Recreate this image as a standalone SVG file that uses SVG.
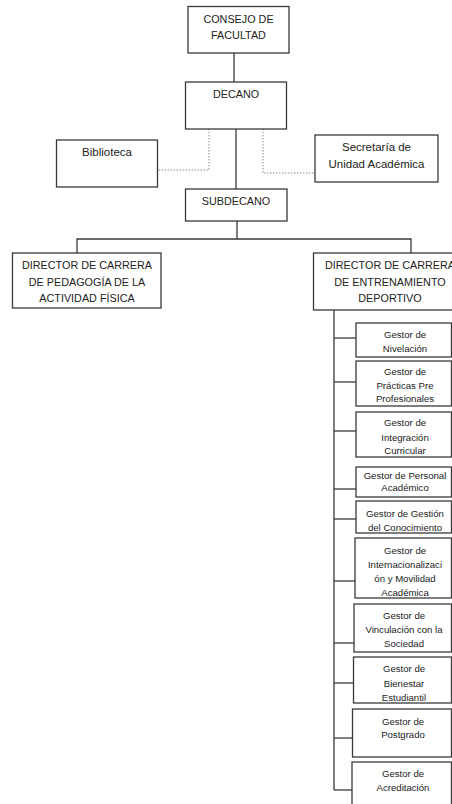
<svg xmlns="http://www.w3.org/2000/svg" width="452" height="804" viewBox="0 0 452 804">
<style>
.b{fill:#fff;stroke:#3a3a3a;stroke-width:1.3}
.l{fill:none;stroke:#3a3a3a;stroke-width:1.3}
.d{fill:none;stroke:#8a8a8a;stroke-width:1;stroke-dasharray:1.5 1.5}
text{font-family:"Liberation Sans",Arial,sans-serif;fill:#222;text-anchor:middle}
.t{font-size:10.8px}
.m{font-size:11.5px}
.s{font-size:9.6px}
</style>
<rect width="452" height="804" fill="#fff"/>
<g id="connectors">
<line class="l" x1="234" y1="53" x2="234" y2="82"/>
<line class="l" x1="236" y1="129" x2="236" y2="189"/>
<polyline class="d" points="209,129 209,170 157,170"/>
<polyline class="d" points="263,129 263,173 315,173"/>
<line class="l" x1="237" y1="221" x2="237" y2="239"/>
<polyline class="l" points="77,253 77,239 411,239 411,253"/>
<line class="l" x1="334" y1="310" x2="334" y2="790"/>
<line class="l" x1="334" y1="338" x2="356" y2="338"/>
<line class="l" x1="334" y1="382" x2="356" y2="382"/>
<line class="l" x1="334" y1="431" x2="356" y2="431"/>
<line class="l" x1="334" y1="489" x2="356" y2="489"/>
<line class="l" x1="334" y1="519" x2="356" y2="519"/>
<line class="l" x1="334" y1="581" x2="356" y2="581"/>
<line class="l" x1="334" y1="643" x2="356" y2="643"/>
<line class="l" x1="334" y1="683" x2="356" y2="683"/>
<line class="l" x1="334" y1="738" x2="355" y2="738"/>
<line class="l" x1="334" y1="790" x2="354" y2="790"/>
</g>
<g id="consejo"><rect class="b" x="188" y="6.5" width="101" height="46.5"/><text class="t" x="238.5" y="23">CONSEJO DE</text><text class="t" x="238.5" y="39">FACULTAD</text></g>
<g id="decano"><rect class="b" x="185.5" y="82" width="101" height="47"/><text class="t" x="236" y="98">DECANO</text></g>
<g id="biblioteca"><rect class="b" x="56.5" y="140" width="101" height="47"/><text class="m" x="107" y="156">Biblioteca</text></g>
<g id="secretaria"><rect class="b" x="315" y="135" width="123" height="47"/><text class="m" x="376.5" y="151">Secretaría de</text><text class="m" x="376.5" y="168">Unidad Académica</text></g>
<g id="subdecano"><rect class="b" x="185.5" y="189" width="101.5" height="32"/><text class="t" x="236" y="205">SUBDECANO</text></g>
<g id="dir-pedagogia"><rect class="b" x="12.5" y="253" width="148.5" height="55"/><text class="t" x="87" y="269">DIRECTOR DE CARRERA</text><text class="t" x="87" y="286">DE PEDAGOGÍA DE LA</text><text class="t" x="87" y="302">ACTIVIDAD FÍSICA</text></g>
<g id="dir-entrenamiento"><rect class="b" x="313.5" y="253" width="155" height="57"/><text class="t" x="390" y="269">DIRECTOR DE CARRERA</text><text class="t" x="390" y="286">DE ENTRENAMIENTO</text><text class="t" x="390" y="302">DEPORTIVO</text></g>
<g id="g-nivelacion"><rect class="b" x="356" y="323" width="95.5" height="34"/><text class="s" x="405" y="337.5">Gestor de</text><text class="s" x="405" y="351.5">Nivelación</text></g>
<g id="g-practicas"><rect class="b" x="356" y="361" width="95.5" height="45"/><text class="s" x="405" y="374.5">Gestor de</text><text class="s" x="405" y="388.5">Prácticas Pre</text><text class="s" x="405" y="401.5">Profesionales</text></g>
<g id="g-integracion"><rect class="b" x="356" y="412" width="95.5" height="45"/><text class="s" x="405" y="425.5">Gestor de</text><text class="s" x="405" y="440.5">Integración</text><text class="s" x="405" y="453.5">Curricular</text></g>
<g id="g-personal"><rect class="b" x="356" y="467" width="95.5" height="30"/><text class="s" x="405" y="478.5">Gestor de Personal</text><text class="s" x="405" y="491">Académico</text></g>
<g id="g-conocimiento"><rect class="b" x="356" y="501" width="95.5" height="32"/><text class="s" x="405" y="516.5">Gestor de Gestión</text><text class="s" x="405" y="530.5">del Conocimiento</text></g>
<g id="g-internacionalizacion"><rect class="b" x="355" y="538" width="96.5" height="60"/><text class="s" x="405" y="553.5">Gestor de</text><text class="s" x="405" y="567.5">Internacionalizaci</text><text class="s" x="405" y="581.5">ón y Movilidad</text><text class="s" x="405" y="595.5">Académica</text></g>
<g id="g-vinculacion"><rect class="b" x="354" y="604" width="97.5" height="48"/><text class="s" x="404" y="618.5">Gestor de</text><text class="s" x="404" y="632.5">Vinculación con la</text><text class="s" x="404" y="646.5">Sociedad</text></g>
<g id="g-bienestar"><rect class="b" x="353.5" y="657" width="98" height="46"/><text class="s" x="404" y="671.5">Gestor de</text><text class="s" x="404" y="686.5">Bienestar</text><text class="s" x="404" y="700.5">Estudiantil</text></g>
<g id="g-postgrado"><rect class="b" x="352.5" y="709" width="99" height="48"/><text class="s" x="403" y="724.5">Gestor de</text><text class="s" x="403" y="737.5">Postgrado</text></g>
<g id="g-acreditacion"><rect class="b" x="352" y="762" width="99.5" height="50"/><text class="s" x="403" y="776.5">Gestor de</text><text class="s" x="403" y="790.5">Acreditación</text></g>
</svg>
